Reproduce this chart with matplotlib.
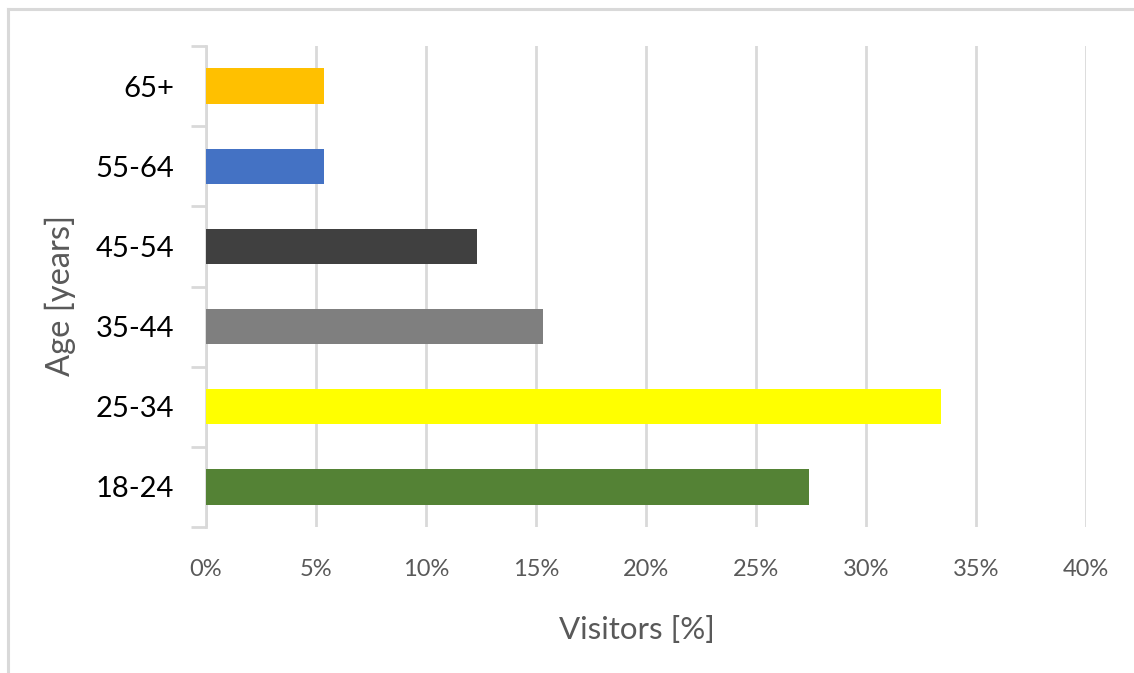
import matplotlib
matplotlib.use("Agg")
import matplotlib.pyplot as plt
from matplotlib.lines import Line2D
from matplotlib.ticker import FuncFormatter, MultipleLocator, FixedLocator

plt.rcParams['font.family'] = ['Lato', 'DejaVu Sans']

age_groups = ["18-24", "25-34", "35-44", "45-54", "55-64", "65+"]
visitors_pct = [27.4, 33.4, 15.3, 12.3, 5.35, 5.35]
bar_colors = ["#548235", "#FFFF00", "#7F7F7F", "#404040", "#4472C4", "#FFC000"]

W, H = 1134, 673
fig = plt.figure(figsize=(W / 100, H / 100), dpi=100)

# plot area in pixel coordinates
left, right, top, bottom = 206, 1086, 46, 527
ax = fig.add_axes([left / W, 1 - bottom / H, (right - left) / W, (bottom - top) / H])

y = list(range(len(age_groups)))
ax.barh(y, visitors_pct, height=0.44, color=bar_colors, zorder=3)

ax.set_xlim(0, 40)
ax.set_ylim(-0.5, len(age_groups) - 0.5)

grid_c = "#D9D9D9"
ax.xaxis.set_major_locator(MultipleLocator(5))
ax.xaxis.set_major_formatter(FuncFormatter(lambda v, p: f"{v:.0f}%"))
ax.grid(axis="x", color=grid_c, linewidth=2, zorder=0)

ax.set_yticks(y)
ax.set_yticklabels(age_groups)
ax.yaxis.set_minor_locator(FixedLocator([i - 0.5 for i in range(len(age_groups) + 1)]))

for s in ["top", "right", "bottom"]:
    ax.spines[s].set_visible(False)
ax.spines["left"].set_color(grid_c)
ax.spines["left"].set_linewidth(2)

ax.tick_params(axis="x", length=0, pad=23, labelsize=17, labelcolor="#595959")
ax.tick_params(axis="y", which="major", length=0, pad=23, labelsize=21, labelcolor="#000000")
ax.tick_params(axis="y", which="minor", length=11, width=2, color=grid_c)

ax.set_xlabel("Visitors [%]", fontsize=22.5, color="#595959", labelpad=26)
ax.set_ylabel("Age [years]", fontsize=23.5, color="#595959", labelpad=14)
ax.xaxis.label.set_x(0.49)
ax.yaxis.label.set_y(0.482)

# outer chart frame
fig.add_artist(Line2D([8 / W, 1], [1 - 9 / H, 1 - 9 / H], transform=fig.transFigure,
                      color=grid_c, linewidth=2.2))
fig.add_artist(Line2D([8 / W, 8 / W], [0, 1 - 9 / H], transform=fig.transFigure,
                      color=grid_c, linewidth=2.2))

fig.savefig("out.png", dpi=100, facecolor="white")
